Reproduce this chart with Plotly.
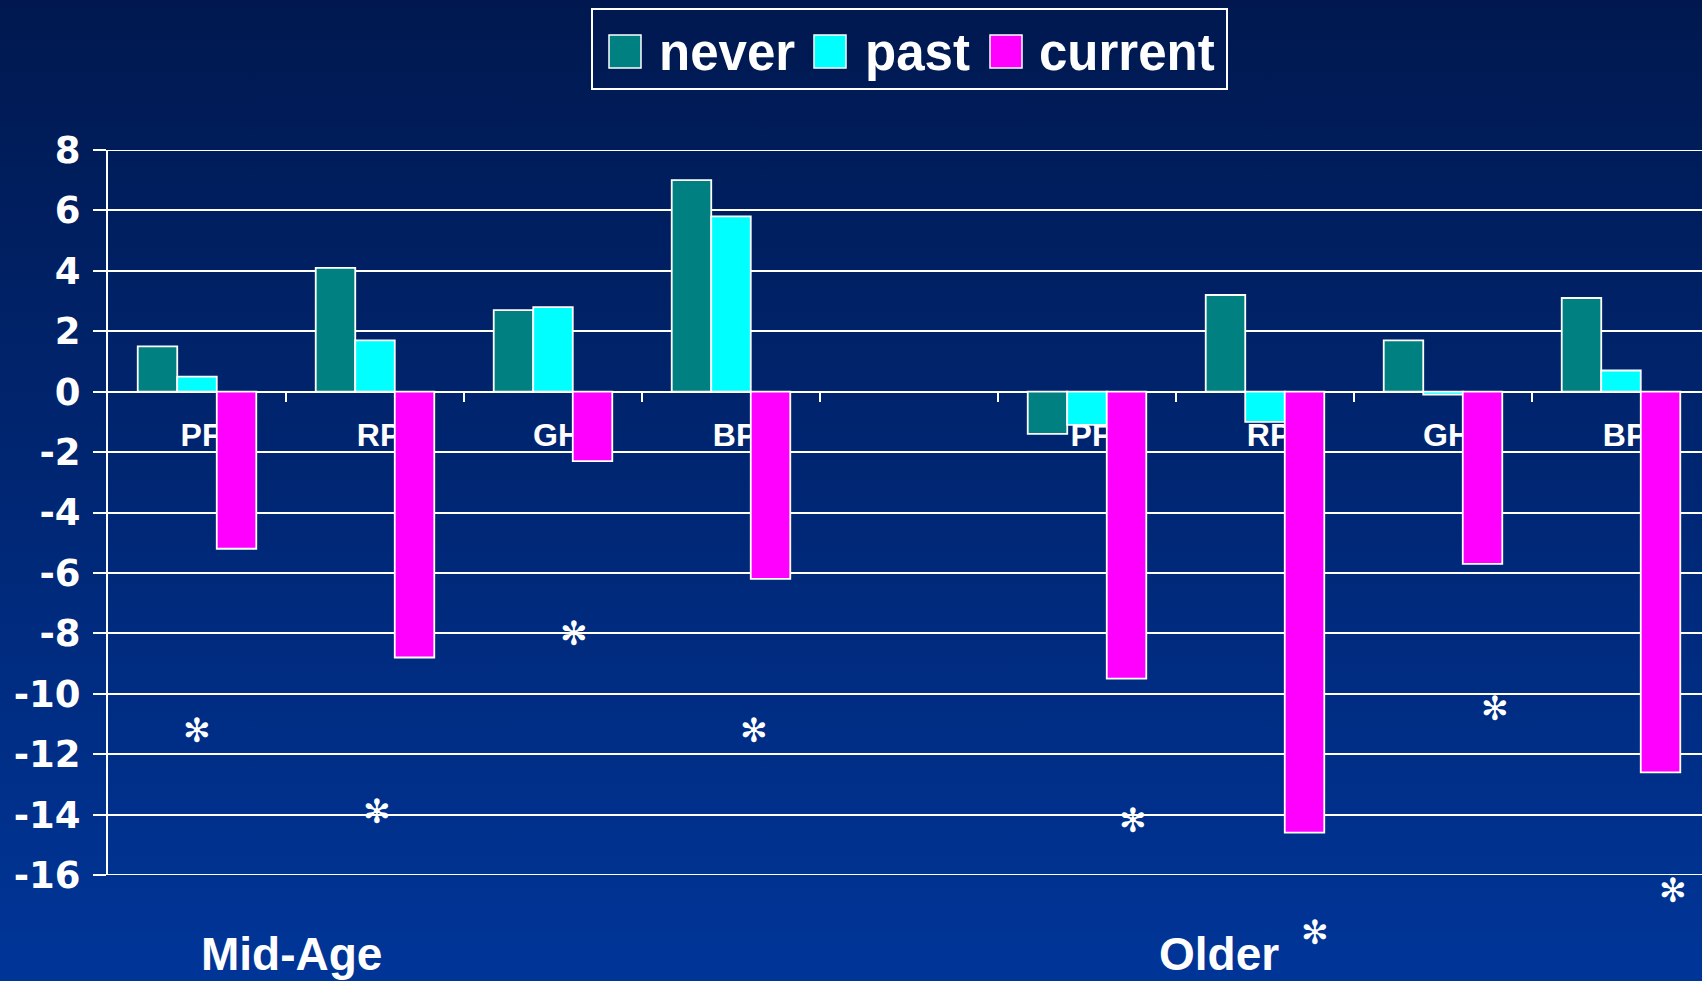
import base64

import plotly.graph_objects as go

# ---- data ----
group_labels = ["Mid-Age", "Older"]
scales = ["PF", "RP", "GH", "BP", "", "PF", "RP", "GH", "BP"]
bar_pos = [0, 1, 2, 3, 5, 6, 7, 8]

never = [1.5, 4.1, 2.7, 7.0, -1.4, 3.2, 1.7, 3.1]
past = [0.5, 1.7, 2.8, 5.8, -1.1, -1.0, -0.1, 0.7]
current = [-5.2, -8.8, -2.3, -6.2, -9.5, -14.6, -5.7, -12.6]

# significance markers (position on category axis, value)
star_x = [0.0, 1.01, 2.12, 3.13, 5.26, 6.28, 7.29, 8.29]
star_y = [-11.2, -13.9, -8.0, -11.2, -14.2, -17.9, -10.5, -16.5]

y_ticks = [8, 6, 4, 2, 0, -2, -4, -6, -8, -10, -12, -14, -16]
y_min, y_max = -16, 8

series = [
    ("never", never, "#008080"),
    ("past", past, "#00FFFF"),
    ("current", current, "#FF00FF"),
]

# ---- layout geometry ----
W, H = 1702, 981
ML, MT, MB = 108, 150, 106
PW, PH = W - ML, H - MT - MB
CAT_PX = 178.0


def px_x(px):
    return (px - ML) / PW


def px_y(py):
    return (H - MB - py) / PH


fig = go.Figure()
for name, vals, color in series:
    fig.add_trace(
        go.Bar(
            x=bar_pos,
            y=vals,
            name=name,
            marker=dict(color=color, line=dict(color="white", width=1.8)),
            showlegend=False,
        )
    )

# background gradient as an inline svg image
top_c, bot_c = "#00184f", "#003598"
svg = (
    '<svg xmlns="http://www.w3.org/2000/svg" width="10" height="100" viewBox="0 0 10 100" '
    'preserveAspectRatio="none"><defs><linearGradient id="g" x1="0" y1="0" x2="0" y2="1">'
    f'<stop offset="0" stop-color="{top_c}"/><stop offset="1" stop-color="{bot_c}"/>'
    '</linearGradient></defs><rect width="10" height="100" fill="url(#g)"/></svg>'
)
bg_src = "data:image/svg+xml;base64," + base64.b64encode(svg.encode()).decode()

annotations = []
# stars can sit below the axis range, so place them in paper units
for sx, sy in zip(star_x, star_y):
    annotations.append(
        dict(
            x=sx, y=(sy - y_min) / (y_max - y_min), xref="x", yref="paper",
            text="\u273B", showarrow=False, xanchor="center", yanchor="middle",
            font=dict(family="DejaVu Sans", size=33, color="white"),
        )
    )

for label, gx in zip(group_labels, [0.53, 5.74]):
    annotations.append(
        dict(
            x=gx, y=px_y(954), xref="x", yref="paper", text=f"<b>{label}</b>",
            showarrow=False, yanchor="middle",
            font=dict(family="Liberation Sans", size=46, color="white"),
        )
    )

# hand-drawn legend to get the big swatches
shapes = [
    dict(
        type="rect", xref="paper", yref="paper",
        x0=px_x(592), x1=px_x(1227), y0=px_y(89), y1=px_y(9),
        line=dict(color="white", width=2), fillcolor="rgba(0,0,0,0)",
    )
]
# plotly skips the grid lines that sit on the plot edges
for yv in (y_max, y_min):
    shapes.append(
        dict(
            type="line", xref="paper", yref="y", x0=0, x1=1, y0=yv, y1=yv,
            line=dict(color="white", width=2), layer="below",
        )
    )
swatch_x = [609, 814, 990]
text_x = [657, 863, 1037]
for (name, _, color), sx, tx in zip(series, swatch_x, text_x):
    shapes.append(
        dict(
            type="rect", xref="paper", yref="paper",
            x0=px_x(sx), x1=px_x(sx + 32), y0=px_y(68), y1=px_y(35),
            line=dict(color="white", width=1.5), fillcolor=color,
        )
    )
    annotations.append(
        dict(
            x=px_x(tx), y=px_y(52), xref="paper", yref="paper", text=f"<b>{name}</b>",
            showarrow=False, xanchor="left", yanchor="middle",
            font=dict(family="Liberation Sans", size=51, color="white"),
        )
    )

fig.update_layout(
    width=W,
    height=H,
    margin=dict(l=ML, r=0, t=MT, b=MB),
    paper_bgcolor="#002570",
    plot_bgcolor="rgba(0,0,0,0)",
    barmode="group",
    bargap=0.334,
    bargroupgap=0,
    showlegend=False,
    images=[
        dict(
            source=bg_src, xref="paper", yref="paper",
            x=-ML / PW, y=1 + MT / PH, sizex=W / PW, sizey=H / PH,
            sizing="stretch", layer="below", xanchor="left", yanchor="top",
        )
    ],
    shapes=shapes,
    annotations=annotations,
    xaxis=dict(
        range=[-0.5, -0.5 + PW / CAT_PX],
        anchor="free",
        position=(0 - y_min) / (y_max - y_min),
        tickvals=list(range(len(scales))),
        ticktext=[f"<b>{s}</b>" for s in scales],
        ticks="",
        tickfont=dict(family="Liberation Sans", size=32, color="white"),
        ticklabelshift=4,
        ticklabelstandoff=15,
        minor=dict(
            tickvals=[i + 0.5 for i in range(len(scales))],
            ticks="outside", ticklen=9, tickwidth=2, tickcolor="white",
        ),
        showline=True,
        linecolor="white",
        linewidth=2,
        showgrid=False,
        zeroline=False,
        layer="below traces",
    ),
    yaxis=dict(
        range=[y_min, y_max],
        tickvals=y_ticks,
        ticktext=[f"<b>{t}</b>" for t in y_ticks],
        tickfont=dict(family="DejaVu Sans", size=37, color="white"),
        ticks="outside",
        ticklen=13,
        tickwidth=2,
        tickcolor="white",
        ticklabelstandoff=5,
        showline=True,
        linecolor="white",
        linewidth=2,
        showgrid=True,
        gridcolor="white",
        gridwidth=2,
        zeroline=False,
    ),
)

fig.write_html(
    "out.html",
    config={"displayModeBar": False},
    post_script="document.body.style.margin='0';",
)
